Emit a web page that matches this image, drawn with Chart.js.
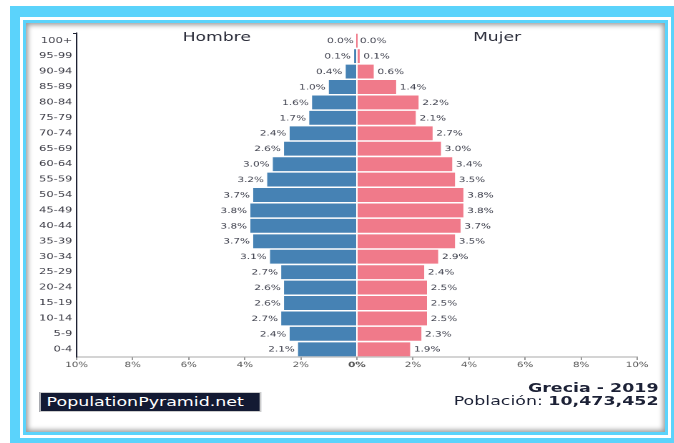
<!DOCTYPE html>
<html>
<head>
<meta charset="utf-8">
<script src="https://cdn.jsdelivr.net/npm/chart.js@4/dist/chart.umd.min.js"></script>
<style>
  body { margin: 0; background: #fff; width: 674px; height: 443px; overflow: hidden; position: relative; font-family: "DejaVu Sans", sans-serif; }
  #frame { position: absolute; left: 10px; top: 6px; width: 680px; height: 445px; background: #5bd3fb; }
  #line { position: absolute; left: 20px; top: 17px; width: 651px; height: 421px; box-sizing: border-box; border: 3px solid #fff; background: #5bd3fb; }
  #box { position: absolute; left: 26px; top: 23px; width: 639px; height: 409px; background: #fff; box-shadow: inset 0 0 5px 2px rgba(0,0,0,0.4); }
  #wrap { position: absolute; left: 28px; top: 25px; width: 440px; height: 400px; transform: scaleX(1.43); transform-origin: 0 0; }
  #chart { position: absolute; left: 0; top: 0; }
  #brand { position: absolute; left: 8px; top: 367px; width: 149px; height: 18px; line-height: 18px; padding-left: 4px;
           background: #131a33; color: #fff; font-size: 12.2px; border: 1px solid #ccc; box-sizing: content-box; }
  #info { position: absolute; right: -1px; top: 357px; text-align: right; font-size: 12.2px; line-height: 12.5px; color: #1c2136; white-space: nowrap; }
  #info b { font-weight: bold; }
</style>
</head>
<body>
<div id="frame"></div>
<div id="line"></div>
<div id="box"></div>
<div id="wrap">
  <canvas id="chart" width="440" height="352"></canvas>
  <div id="brand">PopulationPyramid.net</div>
  <div id="info"><b>Grecia - 2019</b><br>Población: <b>10,473,452</b></div>
</div>
<script>
// DATA
const ageGroups = ['100+', '95-99', '90-94', '85-89', '80-84', '75-79', '70-74', '65-69', '60-64', '55-59',
  '50-54', '45-49', '40-44', '35-39', '30-34', '25-29', '20-24', '15-19', '10-14', '5-9', '0-4'];
const maleShare = [0.0, 0.1, 0.4, 1.0, 1.6, 1.7, 2.4, 2.6, 3.0, 3.2, 3.7, 3.8, 3.8, 3.7, 3.1, 2.7, 2.6, 2.6, 2.7, 2.4, 2.1];
const femaleShare = [0.0, 0.1, 0.6, 1.4, 2.2, 2.1, 2.7, 3.0, 3.4, 3.5, 3.8, 3.8, 3.7, 3.5, 2.9, 2.4, 2.5, 2.5, 2.5, 2.3, 1.9];
const sideTitles = ['Hombre', 'Mujer'];

Chart.defaults.font.family = '"DejaVu Sans", sans-serif';

// labels at bar ends + side titles
const barLabels = {
    id: 'barLabels',
    afterDatasetsDraw(chart) {
        const ctx = chart.ctx;
        const area = chart.chartArea;
        const xs = chart.scales.x;
        ctx.save();
        ctx.font = '7.3px "DejaVu Sans"';
        ctx.fillStyle = '#3b3d4a';
        ctx.textBaseline = 'middle';

        ctx.textAlign = 'right';
        chart.getDatasetMeta(0).data.forEach((bar, i) => {
            ctx.fillText(maleShare[i].toFixed(1) + '%', bar.x - 2.3, bar.y + 0.5);
        });
        ctx.textAlign = 'left';
        chart.getDatasetMeta(1).data.forEach((bar, i) => {
            ctx.fillText(femaleShare[i].toFixed(1) + '%', bar.x + 2.6, bar.y + 0.5);
        });

        ctx.font = '12px "DejaVu Sans"';
        ctx.fillStyle = '#2b2d3a';
        ctx.textAlign = 'center';
        ctx.fillText(sideTitles[0], xs.getPixelForValue(-5), 13);
        ctx.fillText(sideTitles[1], xs.getPixelForValue(5), 13);

        // small tick at the top of the y axis
        ctx.strokeStyle = '#1f2233';
        ctx.lineWidth = 1;
        ctx.beginPath();
        ctx.moveTo(area.left - 2.5, area.top + 0.5);
        ctx.lineTo(area.left, area.top + 0.5);
        ctx.stroke();
        ctx.restore();
    }
};

new Chart(document.getElementById('chart'), {
    type: 'bar',
    data: {
        labels: ageGroups,
        datasets: [{
            label: sideTitles[0],
            data: maleShare.map(v => -v),
            backgroundColor: '#4682b4',
            barPercentage: 0.9,
            categoryPercentage: 1
        }, {
            label: sideTitles[1],
            data: femaleShare,
            backgroundColor: '#f07a8a',
            barPercentage: 0.9,
            categoryPercentage: 1,
            minBarLength: 1
        }]
    },
    options: {
        indexAxis: 'y',
        responsive: false,
        animation: false,
        devicePixelRatio: 2,
        layout: { padding: { top: 8, right: 14, left: 0, bottom: 0 } },
        plugins: { legend: { display: false }, tooltip: { enabled: false } },
        scales: {
            x: {
                stacked: true,
                min: -10,
                max: 10,
                afterFit(scale) { scale.height = 20; },
                grid: { display: true, drawOnChartArea: false, drawTicks: true, tickLength: 3, color: '#9a9a9a' },
                border: { display: true, color: '#a8a8a8', width: 1 },
                ticks: {
                    stepSize: 2,
                    autoSkip: false,
                    maxRotation: 0,
                    padding: 1,
                    color: '#555',
                    font: ctx => ({ size: 7.2, weight: ctx.tick && ctx.tick.value === 0 ? 'bold' : 'normal' }),
                    callback: v => Math.abs(v) + '%'
                }
            },
            y: {
                stacked: true,
                afterFit(scale) { scale.width = 34; },
                grid: { display: false, drawTicks: false },
                border: { display: true, color: '#1f2233', width: 1 },
                ticks: { autoSkip: false, padding: 3, color: '#3a3a44', font: { size: 8 } }
            }
        }
    },
    plugins: [barLabels]
});
</script>
</body>
</html>
